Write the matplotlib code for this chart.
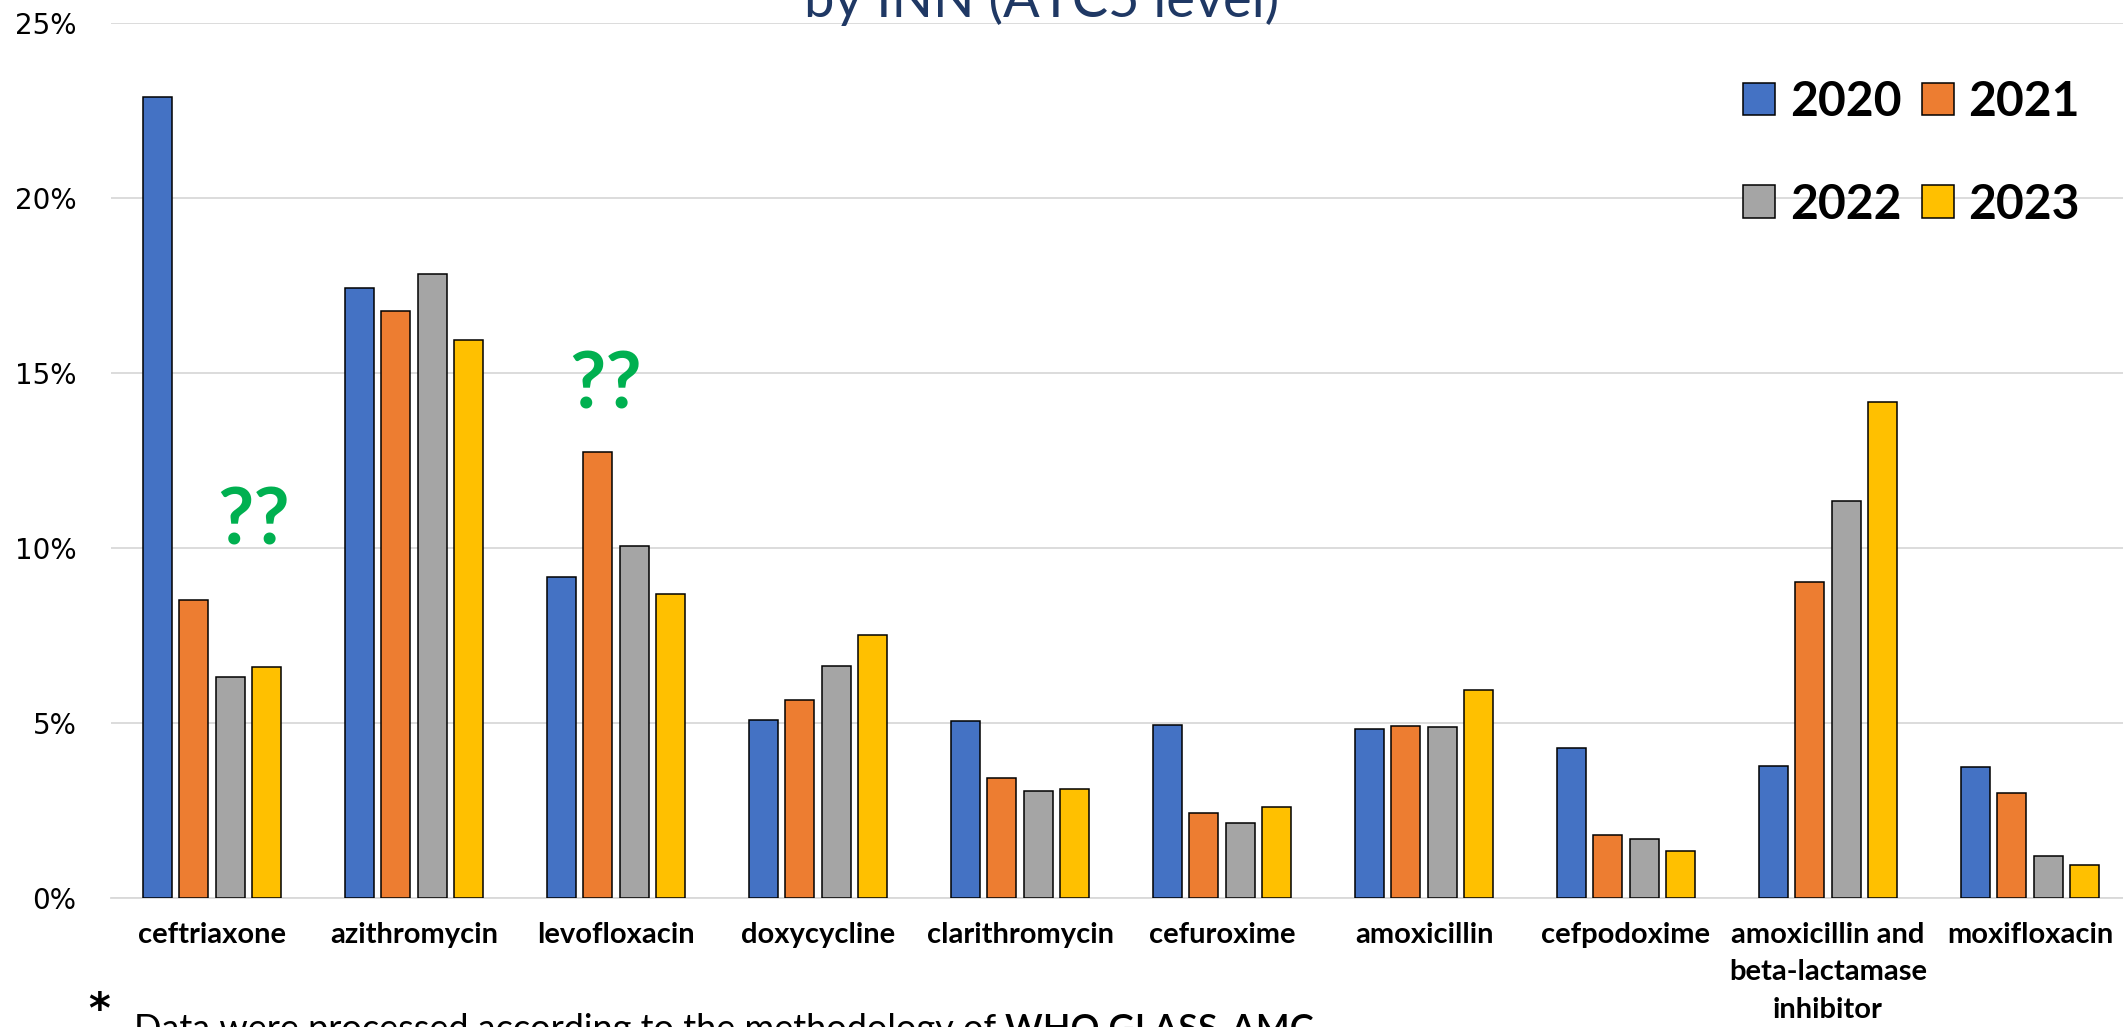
import numpy as np
import matplotlib
matplotlib.use("Agg")
import matplotlib.pyplot as plt
from matplotlib.patches import Patch
from matplotlib.ticker import FuncFormatter, MultipleLocator

# Share of consumption by INN (ATC5 level), percent
categories = [
    "ceftriaxone", "azithromycin", "levofloxacin", "doxycycline",
    "clarithromycin", "cefuroxime", "amoxicillin", "cefpodoxime",
    "amoxicillin and\nbeta-lactamase\ninhibitor", "moxifloxacin",
]
years = ["2020", "2021", "2022", "2023"]
share_2020 = [22.9, 17.45, 9.18, 5.08, 5.07, 4.95, 4.82, 4.28, 3.78, 3.74]
share_2021 = [8.52, 16.78, 12.75, 5.65, 3.42, 2.43, 4.92, 1.81, 9.04, 2.99]
share_2022 = [6.33, 17.85, 10.07, 6.63, 3.07, 2.13, 4.90, 1.69, 11.34, 1.21]
share_2023 = [6.61, 15.96, 8.69, 7.52, 3.12, 2.60, 5.96, 1.33, 14.18, 0.94]
series = [share_2020, share_2021, share_2022, share_2023]
colors = ["#4472C4", "#ED7D31", "#A5A5A5", "#FFC000"]

# question marks placed over doubtful groups: (x, y, text)
queries = [(0.208, 10.11, "??"), (1.946, 13.99, "??")]

W, H, DPI = 2123, 1027, 100
fig = plt.figure(figsize=(W / DPI, H / DPI), dpi=DPI)
fig.patch.set_facecolor("white")
renderer = fig.canvas.get_renderer()


def fit_size(text_obj, target_px, start_size):
    """Scale a text's font size so that its rendered width hits target_px."""
    text_obj.set_fontsize(start_size)
    w = text_obj.get_window_extent(renderer).width
    text_obj.set_fontsize(start_size * target_px / w)
    return text_obj.get_fontsize()


ax = fig.add_axes([111 / W, 1 - 898 / H, 2020 / W, (898 - 23.5) / H])
x = np.arange(len(categories))
pitch, width = 0.181, 0.144
for i, (vals, col) in enumerate(zip(series, colors)):
    ax.bar(x + (i - 1.5) * pitch, vals, width, color=col,
           edgecolor="black", linewidth=1.1, zorder=3)

ax.set_xlim(-0.5, len(categories) - 0.5)
ax.set_ylim(0, 25)
ax.yaxis.set_major_locator(MultipleLocator(5))
ax.yaxis.set_major_formatter(FuncFormatter(lambda v, p: f"{v:.0f}%"))
ax.grid(axis="y", color="#D9D9D9", linewidth=1.3, zorder=0)
ax.set_axisbelow(True)
for side in ("left", "right", "top"):
    ax.spines[side].set_visible(False)
ax.spines["bottom"].set_color("#D9D9D9")
ax.spines["bottom"].set_linewidth(1.3)
ax.tick_params(axis="y", length=0, pad=25, labelsize=20, labelcolor="black")
ax.tick_params(axis="x", length=0, pad=17)
ax.set_xticks(x)
ax.set_xticklabels(categories, fontfamily="Lato", fontweight="bold",
                   fontsize=21, linespacing=1.55)
for lbl in ax.get_yticklabels():
    lbl.set_fontfamily("DejaVu Sans")

for qx, qy, qt in queries:
    ax.text(qx, qy, qt, color="#00B050", fontfamily="Lato", fontweight="bold",
            fontsize=57, ha="center", va="baseline", zorder=5)

# legend laid out row by row: 2020 2021 / 2022 2023
order = [0, 2, 1, 3]
handles = [Patch(facecolor=colors[k], edgecolor="black", linewidth=1.1)
           for k in order]
fig.legend(handles, [years[k] for k in order], loc="upper left",
           bbox_to_anchor=(1743 / W, 1 - 80 / H), ncol=2, frameon=False,
           borderpad=0, borderaxespad=0, handlelength=0.667,
           handleheight=0.667, handletextpad=0.31, columnspacing=0.42,
           labelspacing=1.22,
           prop={"family": "Lato", "weight": "bold", "size": 34.6})

title = fig.text(1042 / W, 1 - 17 / H, "by INN (ATC5 level)", color="#1F3864",
                 fontfamily="Lato", fontweight="normal",
                 ha="center", va="baseline")
fit_size(title, 475, 37)

fig.text(99 / W, 1 - 990 / H, "*", color="black", fontfamily="DejaVu Sans",
         fontweight="bold", fontsize=30, ha="center", va="top")

note_a = fig.text(134 / W, 0, "Data were processed according to the methodology of ",
                  color="black", fontfamily="Lato", fontweight="normal",
                  ha="left", va="baseline")
note_b = fig.text(0, 0, "WHO GLASS-AMC", color="black", fontfamily="Lato",
                  fontweight="semibold", ha="left", va="baseline")
size = 26
note_a.set_fontsize(size)
note_b.set_fontsize(size)
total = (note_a.get_window_extent(renderer).width
         + note_b.get_window_extent(renderer).width)
size = size * 1179 / total
note_a.set_fontsize(size)
note_b.set_fontsize(size)
baseline_px = 1014 + 0.72 * size * DPI / 72
note_a.set_y(1 - baseline_px / H)
bb = note_a.get_window_extent(renderer)
note_b.set_position((bb.x1 / W, 1 - baseline_px / H))

fig.savefig("out.png", dpi=DPI, facecolor="white")
